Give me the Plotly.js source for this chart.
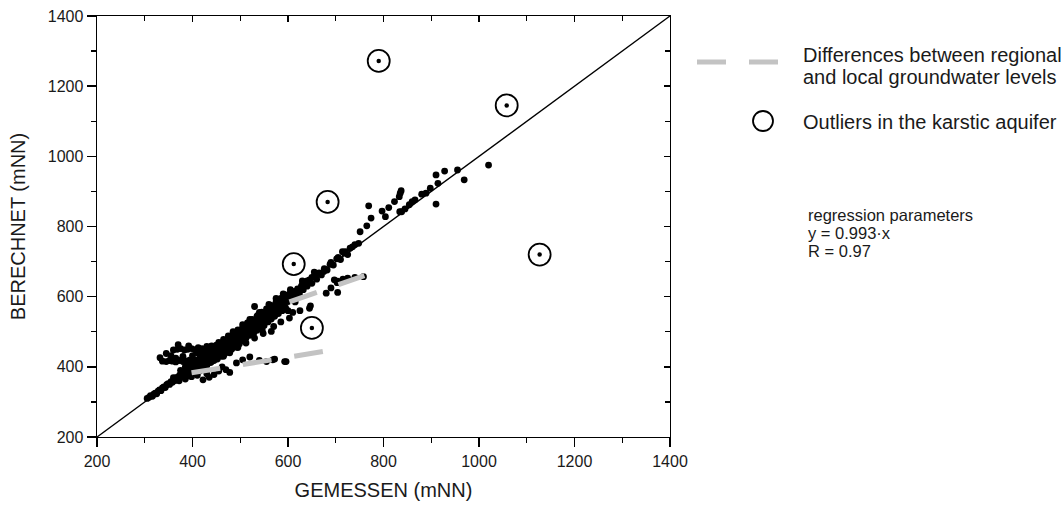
<!DOCTYPE html>
<html><head><meta charset="utf-8">
<script src="https://cdn.plot.ly/plotly-3.0.1.min.js"></script>
<style>body{margin:0;background:#fff}</style>
</head><body><div id="chart" style="width:1064px;height:506px"></div>
<script>
// measured (GEMESSEN) and calculated (BERECHNET) groundwater levels, mNN
const measured = [
305,309,312,316,319,322,325,328,331,334,337,340,343,346,349,352,355,358,361,364,367,370,373,376,379,382,385,388,391,394,397,400,
360,372,385,398,410,422,430,415,405,392,
332,337,345,352,358,365,372,380,388,395,360,368,375,383,390,398,405,412,420,370,392,430,440,450,345,355,400,410,420,432,380,365,
402,405,408,410,412,415,418,420,422,425,428,430,432,435,438,440,442,445,448,450,452,455,458,460,462,465,468,470,472,475,478,480,482,485,488,490,492,495,498,500,502,505,508,510,512,515,518,520,522,525,528,530,532,535,538,540,542,545,548,550,552,555,558,560,562,565,568,570,572,575,578,580,582,585,588,590,592,595,598,600,603,606,610,613,616,620,624,628,632,636,640,645,650,655,660,665,670,676,682,688,695,702,710,718,725,714,
465,478,495,512,530,548,570,585,600,615,625,505,520,485,455,440,560,575,590,540,605,630,655,
415,425,435,445,455,465,475,485,495,505,515,525,535,545,555,565,575,585,595,605,440,450,460,470,480,490,500,510,520,530,540,550,560,570,580,590,600,610,620,630,640,650,660,675,690,705,720,735,395,405,385,375,420,430,410,425,440,455,470,490,510,530,550,575,
478,492,520,555,572,596,568,593,540,505,462,455,445,435,470,
490,530,546,565,603,645,647,625,610,
680,704,697,703,725,758,704,690,715,740,
730,740,748,751,765,769,774,797,804,811,823,833,837,835,834,838,845,854,860,866,880,889,898,910,914,910,928,955,969,1020
];
const calculated = [
310,313,318,316,322,325,323,331,334,332,340,343,341,349,352,350,358,356,364,361,370,367,376,372,383,378,388,383,393,386,398,391,
369,360,365,372,376,363,380,388,382,374,
426,416,415,418,416,414,418,415,417,420,448,450,452,448,450,452,449,455,452,463,460,458,455,462,438,432,432,440,426,442,430,425,
405,396,412,401,418,408,398,422,410,430,418,404,435,422,412,440,428,418,448,435,422,455,442,430,462,450,438,468,456,444,476,462,450,482,470,458,490,478,465,498,486,474,505,494,482,512,500,490,520,508,496,528,515,504,536,522,510,545,530,518,552,540,528,560,548,536,568,555,544,576,562,552,584,570,560,592,578,568,600,586,598,606,596,615,605,622,612,630,620,640,630,648,638,658,650,668,662,680,676,692,690,708,706,724,720,728,
430,440,455,468,482,495,515,528,560,585,600,520,535,500,470,460,578,595,608,555,620,645,670,
425,440,445,455,465,478,488,495,505,512,525,535,545,556,565,575,585,595,605,612,430,450,445,460,478,485,480,505,515,520,535,545,555,570,578,585,598,610,618,635,645,655,665,672,698,712,728,742,410,420,400,390,440,450,392,395,415,440,445,470,480,508,530,560,
384,411,428,415,422,415,420,415,418,420,400,388,378,370,392,
456,572,505,501,539,567,574,560,555,
610,612,648,640,653,657,644,625,650,655,
738,748,752,785,802,859,824,844,828,854,871,885,902,895,842,842,850,862,871,876,892,895,909,947,923,864,958,961,933,975
];
const outlierX = [790, 1058, 683, 1127, 612, 650];
const outlierY = [1272, 1145, 870, 720, 693, 511];
const diffAX = [398, 680], diffAY = [383, 445];
const diffBX = [603, 760], diffBY = [585, 660];
const lineX = [200, 1400], lineY = [200, 1400];
const axisRange = [200, 1400];
const tickValues = [200, 400, 600, 800, 1000, 1200, 1400];
const xTitle = 'GEMESSEN (mNN)';
const yTitle = 'BERECHNET (mNN)';
const legendDiff = ['Differences between regional', 'and local groundwater levels'];
const legendOutlier = 'Outliers in the karstic aquifer';
const regressionText = ['regression parameters', 'y = 0.993\u00b7x', 'R = 0.97'];

const FONT = 'Liberation Sans, Arial, Helvetica, sans-serif';
const TXT = '#1a1a1a';
const GRAY = '#c3c3c3';

const traces = [
  {x: lineX, y: lineY, mode: 'lines', line: {color: '#000', width: 1.4}, hoverinfo: 'skip'},
  {x: measured, y: calculated, mode: 'markers', marker: {color: '#000', size: 6.8}},
  {x: diffAX, y: diffAY, mode: 'lines', line: {color: GRAY, width: 5, dash: '29px,23px'}},
  {x: diffBX, y: diffBY, mode: 'lines', line: {color: GRAY, width: 5, dash: '29px,23px'}},
  {x: outlierX, y: outlierY, mode: 'markers', marker: {color: '#000', size: 4.5}},
  {x: outlierX, y: outlierY, mode: 'markers', marker: {symbol: 'circle-open', color: '#000', size: 22, line: {width: 1.8}}},
  {x: [null], y: [null], xaxis: 'x2', yaxis: 'y2', mode: 'markers', hoverinfo: 'skip'}
];

const baseAxis = {
  range: axisRange, tickvals: tickValues, showgrid: false, zeroline: false,
  showline: true, linecolor: '#000', linewidth: 1.4,
  ticks: 'outside', ticklen: 9, tickwidth: 1.4, tickcolor: '#000',
  minor: {dtick: 100, tick0: 200, ticks: 'outside', ticklen: 5, tickwidth: 1.4, tickcolor: '#000', showgrid: false},
  tickfont: {family: FONT, size: 16, color: TXT}
};
const mirrorAxis = {
  range: axisRange, tickvals: tickValues, showgrid: false, zeroline: false,
  showline: true, linecolor: '#000', linewidth: 1.4, showticklabels: false,
  ticks: 'inside', ticklen: 6, tickwidth: 1.4, tickcolor: '#000',
  minor: {dtick: 100, tick0: 200, ticks: 'inside', ticklen: 5, tickwidth: 1.4, tickcolor: '#000', showgrid: false}
};

function px(x) { return (x - 97) / 573; }
function py(y) { return (437 - y) / 421; }

const annotations = [
  {text: legendDiff[0], x: px(801), y: py(55)},
  {text: legendDiff[1], x: px(801), y: py(77)},
  {text: legendOutlier, x: px(801), y: py(122)},
  {text: regressionText[0], x: px(806), y: py(215), size: 16.5},
  {text: regressionText[1], x: px(806), y: py(233), size: 16.5},
  {text: regressionText[2], x: px(806), y: py(251), size: 16.5}
].map(a => ({
  text: a.text, x: a.x, y: a.y, xref: 'paper', yref: 'paper', xanchor: 'left', yanchor: 'middle',
  showarrow: false, font: {family: FONT, size: a.size || 20, color: TXT}
}));

const shapes = [
  {type: 'line', xref: 'paper', yref: 'paper', x0: px(697), x1: px(778), y0: py(62), y1: py(62),
   line: {color: GRAY, width: 5, dash: '29px,23px'}},
  {type: 'circle', xref: 'paper', yref: 'paper', x0: px(753), x1: px(773), y0: py(131), y1: py(111),
   line: {color: '#000', width: 1.8}}
];

const layout = {
  width: 1064, height: 506,
  margin: {l: 97, r: 394, t: 16, b: 69},
  paper_bgcolor: '#fff', plot_bgcolor: '#fff',
  showlegend: false,
  font: {family: FONT, color: TXT},
  xaxis: Object.assign({}, baseAxis, {title: {text: xTitle, font: {family: FONT, size: 20, color: TXT}, standoff: 14}}),
  yaxis: Object.assign({}, baseAxis, {title: {text: yTitle, font: {family: FONT, size: 20, color: TXT}, standoff: 17}}),
  xaxis2: Object.assign({}, mirrorAxis, {overlaying: 'x', side: 'top', anchor: 'y2'}),
  yaxis2: Object.assign({}, mirrorAxis, {overlaying: 'y', side: 'right', anchor: 'x2'}),
  annotations: annotations,
  shapes: shapes
};

Plotly.newPlot('chart', traces, layout, {staticPlot: true, displayModeBar: false});
</script></body></html>
